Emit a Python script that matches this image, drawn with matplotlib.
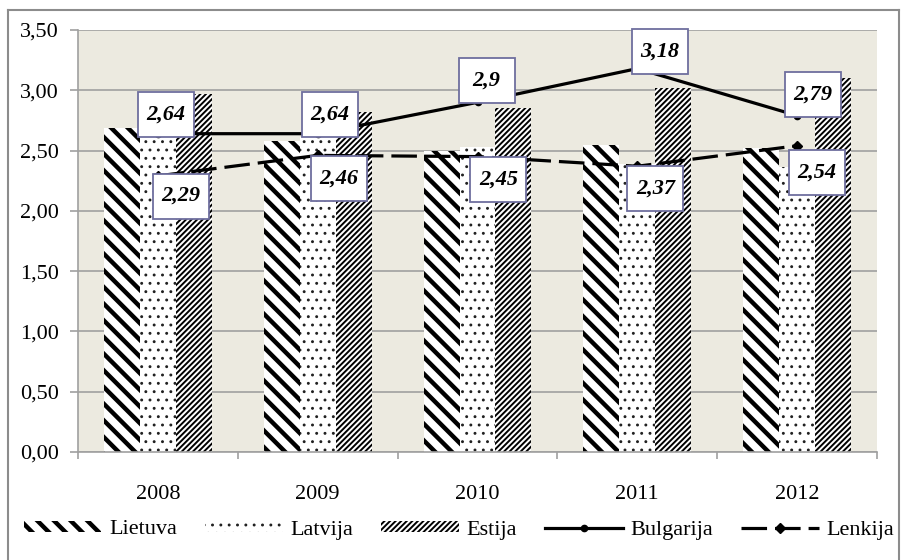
import matplotlib
matplotlib.use("Agg")
import matplotlib.pyplot as plt
from matplotlib.lines import Line2D
from matplotlib.path import Path
import numpy as np

plt.rcParams['font.family'] = ['Liberation Serif', 'DejaVu Serif']

years = ['2008', '2009', '2010', '2011', '2012']
lietuva = [2.69, 2.58, 2.50, 2.55, 2.52]
latvija = [2.63, 2.61, 2.53, 2.39, 2.36]
estija = [2.97, 2.82, 2.85, 3.02, 3.10]
bulgarija = [2.64, 2.64, 2.90, 3.18, 2.79]
lenkija = [2.29, 2.46, 2.45, 2.37, 2.54]
bulgarija_labels = ['2,64', '2,64', '2,9', '3,18', '2,79']
lenkija_labels = ['2,29', '2,46', '2,45', '2,37', '2,54']
yticks = [0, 0.5, 1.0, 1.5, 2.0, 2.5, 3.0, 3.5]
ytick_labels = ['0,00', '0,50', '1,00', '1,50', '2,00', '2,50', '3,00', '3,50']

# label offsets in points (layout only)
bul_off = [(6, 14), (9, 14), (6.5, 16), (16, 12), (11.5, 15)]
len_off = [(16.5, -14.5), (15, -16.5), (15, -16.5), (13, -16), (14.5, -19)]

fig = plt.figure(figsize=(9.06, 5.6), dpi=100)
ax = fig.add_axes([78/906, 108/560, (877-78)/906, (452-30)/560])
ax.set_facecolor('#ECEAE0')

x = np.arange(len(years))
w = 0.225
GRID = '#A0A0A0'


def fixed_box(x0, y0, width, height, mutation_size):
    s = fig.dpi / 100.0
    bw, bh = 56 * s, 45 * s
    cx, cy = x0 + width / 2, y0 + height / 2
    l, r, b, t = cx - bw / 2, cx + bw / 2, cy - bh / 2, cy + bh / 2
    return Path([(l, b), (r, b), (r, t), (l, t), (l, b)],
                [Path.MOVETO, Path.LINETO, Path.LINETO, Path.LINETO, Path.CLOSEPOLY])


def set_hlw(p, hlw):
    try:
        p.set_hatch_linewidth(hlw)
    except Exception:
        pass


def hbar(xs, vals, hatch, hlw, hcolor, label):
    cont = ax.bar(xs, vals, w, color='white', edgecolor=hcolor, linewidth=0,
                  hatch=hatch, label=label, zorder=2)
    for p in cont.patches:
        set_hlw(p, hlw)
    return cont

hatch_lws = [3.2, 0.9, 1.4]
b1 = hbar(x - w, lietuva, '\\\\', hatch_lws[0], 'black', 'Lietuva')
b2 = hbar(x, latvija, '..', hatch_lws[1], '#202020', 'Latvija')
b3 = hbar(x + w, estija, '//////', hatch_lws[2], 'black', 'Estija')

l1, = ax.plot(x, bulgarija, color='black', lw=2.3, marker='o', markersize=4.5,
              zorder=4, label='Bulgarija')
l2, = ax.plot(x, lenkija, color='black', lw=2.3, marker='D', markersize=5.5,
              dashes=(8, 2.5), zorder=4, label='Lenkija')

box = dict(boxstyle=fixed_box, fc='white', ec='#6E6E9E', lw=1.3)
for i in range(len(years)):
    ax.annotate(bulgarija_labels[i], (x[i], bulgarija[i]), xytext=bul_off[i],
                textcoords='offset points', ha='center', va='center',
                fontsize=16, fontweight='bold', fontstyle='italic', bbox=box, zorder=6)
    ax.annotate(lenkija_labels[i], (x[i], lenkija[i]), xytext=len_off[i],
                textcoords='offset points', ha='center', va='center',
                fontsize=16, fontweight='bold', fontstyle='italic', bbox=box, zorder=6)

ax.set_xlim(-0.5, len(years) - 0.5)
ax.set_ylim(0, 3.5)
ax.set_yticks(yticks)
ax.set_yticklabels(ytick_labels, fontsize=16)
ax.yaxis.grid(True, color=GRID, lw=1.2, zorder=0)
ax.set_axisbelow(True)

ax.set_xticks(x)
ax.set_xticklabels(years, fontsize=16)
ax.set_xticks(np.arange(-0.5, len(years)), minor=True)
ax.tick_params(axis='x', which='major', length=0, pad=24)
ax.tick_params(axis='x', which='minor', length=5, color=GRID, width=1.2)
ax.tick_params(axis='y', length=6, color=GRID, width=1.2, pad=8)

for s in ['top', 'right']:
    ax.spines[s].set_visible(False)
for s in ['left', 'bottom']:
    ax.spines[s].set_color(GRID)
    ax.spines[s].set_linewidth(1.2)

leg = fig.legend(handles=[b1, b2, b3, l1, l2], loc='center', bbox_to_anchor=(459/906, 1 - 530/560),
                 ncol=5, frameon=False, fontsize=16, handlelength=3.5, handletextpad=0.35,
                 columnspacing=1.25, handleheight=0.4)
for p, hlw in zip(leg.get_patches(), hatch_lws):
    set_hlw(p, hlw)

# outer border
bc = '#8C8C8C'
fig.add_artist(Line2D([8/906, 8/906], [0, 1 - 10/560], color=bc, lw=1.5, transform=fig.transFigure))
fig.add_artist(Line2D([8/906, 899/906], [1 - 10/560, 1 - 10/560], color=bc, lw=1.5, transform=fig.transFigure))
fig.add_artist(Line2D([899/906, 899/906], [0, 1 - 10/560], color=bc, lw=1.5, transform=fig.transFigure))

fig.savefig('out.png', dpi=100)
